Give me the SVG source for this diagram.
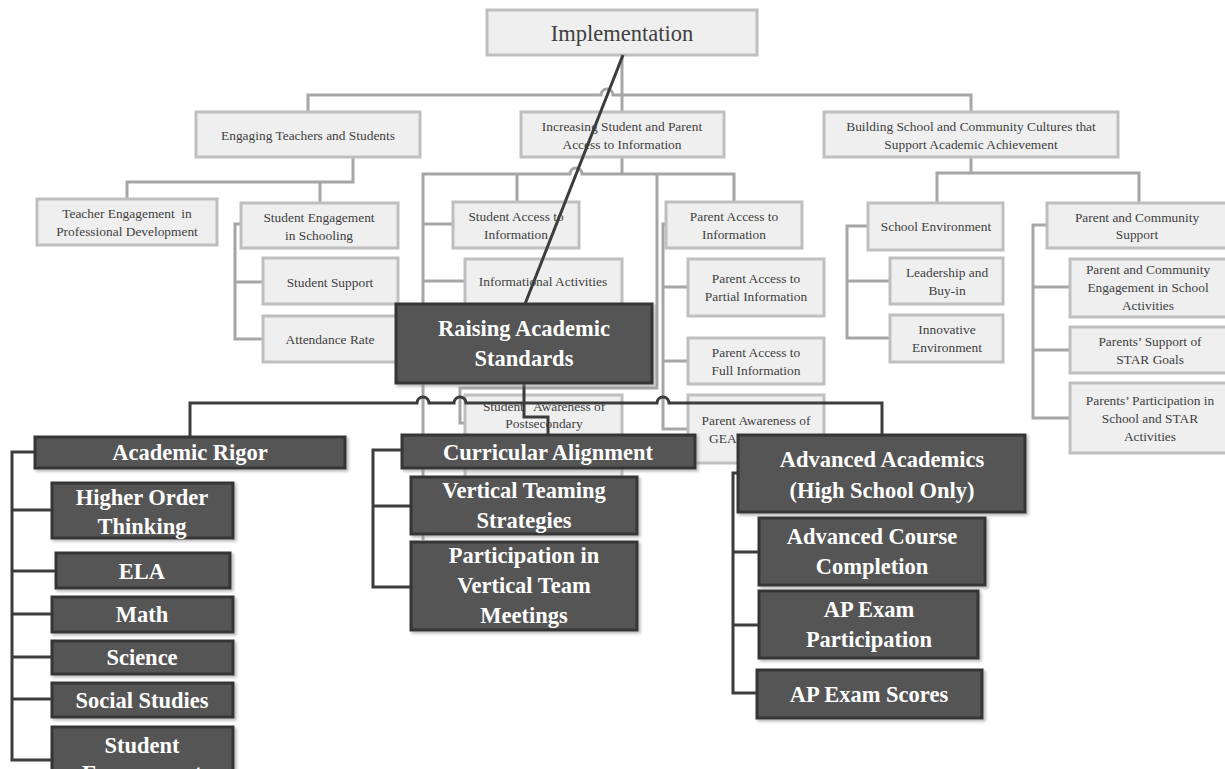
<svg xmlns="http://www.w3.org/2000/svg" width="1225" height="769" viewBox="0 0 1225 769">
<defs>
<filter id="sh" x="-10%" y="-10%" width="120%" height="130%">
<feDropShadow dx="2" dy="2" stdDeviation="1.5" flood-color="#888" flood-opacity="0.6"/>
</filter>
<style>
.gl{fill:none;stroke:#a6a6a6;stroke-width:3}
.dl{fill:none;stroke:#3c3c3c;stroke-width:3}
.gb rect{fill:#efefef;stroke:#bfbfbf;stroke-width:3}
.gb text{font-family:"Liberation Serif","Times New Roman",serif;font-size:13.4px;fill:#404040;text-anchor:middle;dominant-baseline:central}
.db rect{fill:#555555;stroke:#363636;stroke-width:3;filter:url(#sh)}
.db text{font-family:"Liberation Serif","Times New Roman",serif;font-size:22.5px;font-weight:bold;fill:#ffffff;text-anchor:middle;dominant-baseline:central}
</style>
</defs>
<rect width="1225" height="769" fill="#ffffff"/>

<g id="connectors-gray">
<path class="gl" d="M622,55 V112"/>
<path class="gl" d="M308,112 V95 H601 a6,6 0 0 1 12,0 H971 V112"/>
<path class="gl" d="M353,157 V182 H127 V199"/>
<path class="gl" d="M320,182 V203"/>
<path class="gl" d="M241,224 H235 V339 H263"/>
<path class="gl" d="M235,282 H263"/>
<path class="gl" d="M622,157 V174"/>
<path class="gl" d="M423,540 V174 H570 a6,6 0 0 1 12,0 H734 V202"/>
<path class="gl" d="M517,174 V202"/>
<path class="gl" d="M657,174 V388 H460 V423 H465"/>
<path class="gl" d="M423,224 H453"/>
<path class="gl" d="M423,281 H465"/>
<path class="gl" d="M666,224 H663 V429 H688"/>
<path class="gl" d="M663,287 H688"/>
<path class="gl" d="M663,361 H688"/>
<path class="gl" d="M971,157 V173"/>
<path class="gl" d="M937,203 V173 H1139 V203"/>
<path class="gl" d="M868,226 H847 V338 H890"/>
<path class="gl" d="M847,281 H890"/>
<path class="gl" d="M1047,225 H1033 V418 H1070"/>
<path class="gl" d="M1033,287 H1070"/>
<path class="gl" d="M1033,350 H1070"/>
</g>

<g class="gb">
<g id="n-implementation"><rect x="487" y="10" width="270" height="45"/><text x="622" y="33" style="font-size:22.5px">Implementation</text></g>
<g id="n-engaging"><rect x="196" y="112" width="224" height="45"/><text x="308" y="135">Engaging Teachers and Students</text></g>
<g id="n-increasing"><rect x="521" y="112" width="203" height="45"/><text x="622" y="126">Increasing Student and Parent</text><text x="622" y="144">Access to Information</text></g>
<g id="n-building"><rect x="824" y="112" width="294" height="45"/><text x="971" y="126">Building School and Community Cultures that</text><text x="971" y="144">Support Academic Achievement</text></g>
<g id="n-teacher"><rect x="37" y="199" width="180" height="46"/><text x="127" y="213" xml:space="preserve">Teacher Engagement  in</text><text x="127" y="231">Professional Development</text></g>
<g id="n-student-engagement"><rect x="241" y="203" width="157" height="45"/><text x="319" y="217">Student Engagement</text><text x="319" y="235">in Schooling</text></g>
<g id="n-student-support"><rect x="263" y="258" width="135" height="46"/><text x="330" y="282">Student Support</text></g>
<g id="n-attendance"><rect x="263" y="316" width="135" height="46"/><text x="330" y="339">Attendance Rate</text></g>
<g id="n-student-access"><rect x="453" y="202" width="126" height="46"/><text x="516" y="216">Student Access to</text><text x="516" y="234">Information</text></g>
<g id="n-informational"><rect x="465" y="259" width="157" height="70"/><text x="543" y="281">Informational Activities</text></g>
<g id="n-student-awareness"><rect x="465" y="395" width="157" height="105"/><text x="544" y="406" xml:space="preserve">Student   Awareness of</text><text x="544" y="423">Postsecondary</text></g>
<g id="n-parent-access"><rect x="666" y="202" width="136" height="46"/><text x="734" y="216">Parent Access to</text><text x="734" y="234">Information</text></g>
<g id="n-parent-partial"><rect x="688" y="259" width="136" height="57"/><text x="756" y="278">Parent Access to</text><text x="756" y="296">Partial Information</text></g>
<g id="n-parent-full"><rect x="688" y="338" width="136" height="46"/><text x="756" y="352">Parent Access to</text><text x="756" y="370">Full Information</text></g>
<g id="n-parent-awareness"><rect x="688" y="395" width="136" height="68"/><text x="756" y="420">Parent Awareness of</text><text x="756" y="438">GEAR UP/STAR</text></g>
<g id="n-school-env"><rect x="868" y="203" width="135" height="47"/><text x="936" y="226">School Environment</text></g>
<g id="n-leadership"><rect x="890" y="258" width="113" height="46"/><text x="947" y="272">Leadership and</text><text x="947" y="290">Buy-in</text></g>
<g id="n-innovative"><rect x="890" y="315" width="113" height="47"/><text x="947" y="329">Innovative</text><text x="947" y="347">Environment</text></g>
<g id="n-pc-support"><rect x="1047" y="203" width="180" height="45"/><text x="1137" y="217">Parent and Community</text><text x="1137" y="234">Support</text></g>
<g id="n-pc-engagement"><rect x="1070" y="259" width="157" height="58"/><text x="1148" y="269">Parent and Community</text><text x="1148" y="287">Engagement in School</text><text x="1148" y="305">Activities</text></g>
<g id="n-parents-support"><rect x="1070" y="327" width="157" height="46"/><text x="1150" y="341">Parents’ Support of</text><text x="1150" y="359">STAR Goals</text></g>
<g id="n-parents-participation"><rect x="1070" y="383" width="157" height="70"/><text x="1150" y="400">Parents’ Participation in</text><text x="1150" y="418">School and STAR</text><text x="1150" y="436">Activities</text></g>
</g>

<g id="connectors-dark">
<path class="dl" d="M623,55 L525,304"/>
<path class="dl" d="M524,383 V417 H548 V435"/>
<path class="dl" d="M190,437 V403 H417 a6,6 0 0 1 12,0 H454 a6,6 0 0 1 12,0 H657 a6,6 0 0 1 12,0 H882 V435"/>
<path class="dl" d="M35,452 H12 V760 H52"/>
<path class="dl" d="M12,510 H52 M12,571 H56 M12,614 H52 M12,657 H52 M12,699 H52"/>
<path class="dl" d="M402,450 H373 V587 H411 M373,506 H411"/>
<path class="dl" d="M738,473 H733 V693 H757 M733,552 H759 M733,625 H759"/>
</g>

<g class="db">
<g id="n-raising"><rect x="396" y="304" width="256" height="79"/><text x="524" y="328">Raising Academic</text><text x="524" y="358">Standards</text></g>
<g id="n-academic-rigor"><rect x="35" y="437" width="310" height="31"/><text x="190" y="452">Academic Rigor</text></g>
<g id="n-higher-order"><rect x="52" y="483" width="181" height="55"/><text x="142" y="497">Higher Order</text><text x="142" y="526">Thinking</text></g>
<g id="n-ela"><rect x="56" y="553" width="174" height="35"/><text x="142" y="571">ELA</text></g>
<g id="n-math"><rect x="52" y="597" width="181" height="35"/><text x="142" y="614">Math</text></g>
<g id="n-science"><rect x="52" y="641" width="181" height="33"/><text x="142" y="657">Science</text></g>
<g id="n-social"><rect x="52" y="683" width="181" height="34"/><text x="142" y="700">Social Studies</text></g>
<g id="n-student-eng2"><rect x="52" y="727" width="181" height="60"/><text x="142" y="745">Student</text><text x="142" y="773">Engagement</text></g>
<g id="n-curricular"><rect x="402" y="435" width="293" height="33"/><text x="548" y="452">Curricular Alignment</text></g>
<g id="n-vertical-teaming"><rect x="411" y="477" width="226" height="57"/><text x="524" y="490">Vertical Teaming</text><text x="524" y="520">Strategies</text></g>
<g id="n-participation"><rect x="411" y="542" width="226" height="88"/><text x="524" y="555">Participation in</text><text x="524" y="585">Vertical Team</text><text x="524" y="615">Meetings</text></g>
<g id="n-advanced"><rect x="738" y="435" width="287" height="77"/><text x="882" y="459">Advanced Academics</text><text x="882" y="490">(High School Only)</text></g>
<g id="n-adv-course"><rect x="759" y="518" width="226" height="67"/><text x="872" y="536">Advanced Course</text><text x="872" y="566">Completion</text></g>
<g id="n-ap-part"><rect x="759" y="591" width="219" height="67"/><text x="869" y="609">AP Exam</text><text x="869" y="639">Participation</text></g>
<g id="n-ap-scores"><rect x="757" y="670" width="225" height="48"/><text x="869" y="694">AP Exam Scores</text></g>
</g>
</svg>
